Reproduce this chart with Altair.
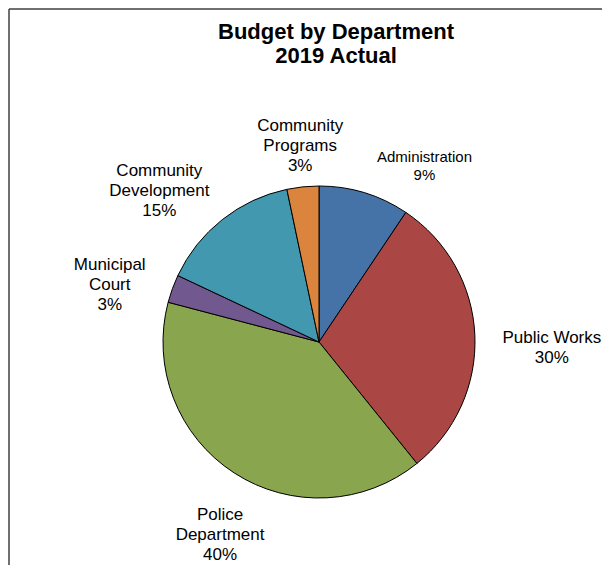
import altair as alt
import pandas as pd

# ---- data ----
departments = ["Administration", "Public Works", "Police Department",
               "Municipal Court", "Community Development", "Community Programs"]
label_lines = ["Administration", "Public Works", "Police\nDepartment",
               "Municipal\nCourt", "Community\nDevelopment", "Community\nPrograms"]
shares = [9.4, 29.8, 39.9, 2.9, 14.7, 3.3]
colors = ["#4572A7", "#AA4643", "#89A54E", "#71588F", "#4198AF", "#DB843D"]
title_lines = ["Budget by Department", "2019 Actual"]

df = pd.DataFrame({
    "dept": departments,
    "label": label_lines,
    "value": shares,
    "order": list(range(len(departments))),
})

FONT = "Liberation Sans"

base = (
    alt.Chart(df)
    .transform_joinaggregate(total="sum(value)")
    .transform_window(cum="sum(value)", sort=[alt.SortField("order")], frame=[None, 0])
    .transform_calculate(
        mid="2*PI*(datum.cum - datum.value/2)/datum.total",
        pct="round(100*datum.value/datum.total) + '%'",
    )
    .transform_calculate(
        txt="datum.label + '\\n' + datum.pct",
        s="sin(datum.mid)",
        c="cos(datum.mid)",
        l0="split(datum.label, '\\n')[0]",
        l1="split(datum.label, '\\n')[1] || ''",
        fs="datum.dept == 'Administration' ? 15 : 17",
        lh="datum.dept == 'Administration' ? 18 : 20",
    )
    .transform_calculate(
        nl="length(split(datum.txt, '\\n'))",
        mc="max(length(datum.l0), length(datum.l1), length(datum.pct))",
        side="datum.c < -0.8 || abs(datum.s) < 0.2 ? 0 : (datum.s > 0 ? 1 : -1)",
    )
    .encode(
        theta=alt.Theta("value:Q", stack=True),
        order=alt.Order("order:Q"),
        color=alt.Color("dept:N", scale=alt.Scale(domain=departments, range=colors), legend=None),
    )
)

pie = base.mark_arc(outerRadius=156, stroke="black", strokeWidth=1)

# outside-end labels: anchored just outside the rim, text block pushed away from the pie
labels = base.mark_text(
    radius=182,
    lineBreak="\n",
    font=FONT,
    fontSize=alt.expr("datum.fs"),
    lineHeight=alt.expr("datum.lh"),
    align="center",
    baseline="middle",
    dx=alt.expr("datum.side * datum.mc * datum.fs * 0.25"),
    dy=alt.expr("-datum.c*datum.nl*datum.lh/2 - (datum.nl-1)*datum.lh/2 + 15"),
).encode(text="txt:N", color=alt.value("black"))

one = pd.DataFrame({"k": [0]})
title = alt.Chart(one).mark_text(
    text=title_lines,
    lineBreak="\n",
    font=FONT,
    fontSize=22,
    fontWeight="bold",
    lineHeight=24,
    align="center",
    baseline="alphabetic",
    color="black",
).encode(x=alt.value(300), y=alt.value(-80))

frame_top = alt.Chart(one).mark_rule(color="#404040", strokeWidth=1.5).encode(
    x=alt.value(-27), x2=alt.value(600), y=alt.value(-110)
)
frame_left = alt.Chart(one).mark_rule(color="#404040", strokeWidth=1.5).encode(
    x=alt.value(-27), y=alt.value(-110), y2=alt.value(460)
)

chart = (
    alt.layer(pie, labels, title, frame_top, frame_left)
    .properties(
        width=566,
        height=446,
        autosize=alt.AutoSizeParams(type="none"),
        padding={"left": 28, "top": 111, "right": 0, "bottom": 0},
    )
    .configure_view(strokeWidth=0)
)

chart.save("out.html", embed_options={"renderer": "svg", "actions": False})
